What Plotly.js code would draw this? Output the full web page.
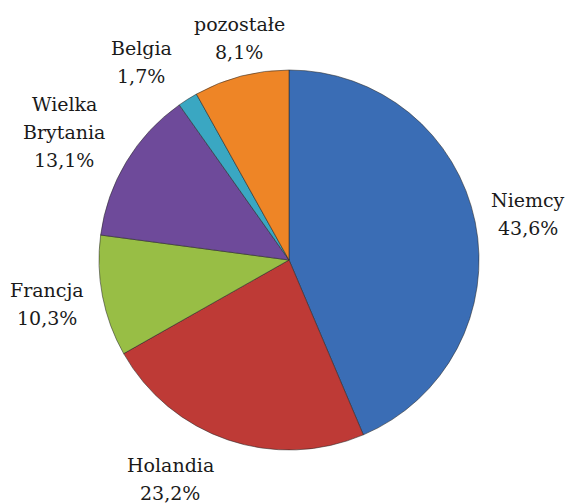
<!DOCTYPE html>
<html>
<head>
<meta charset="utf-8">
<script src="https://cdn.plot.ly/plotly-3.0.1.min.js"></script>
<style>html,body{margin:0;padding:0;background:#fff;}#chart{width:571px;height:504px;}</style>
</head>
<body>
<div id="chart"></div>
<script>
var categories = ["Niemcy", "Holandia", "Francja", "Wielka<br>Brytania", "Belgia", "pozostałe"];
var values = [43.6, 23.2, 10.3, 13.1, 1.7, 8.1];
var colors = ["#3A6DB5", "#BE3A36", "#98BE45", "#6E4A9A", "#3AA7C2", "#EE8526"];
var labelPos = [[528, 214], [170, 479], [47, 304], [64, 132], [141, 62], [239, 38]];

var W = 571, H = 504;
var cx = 289, cy = 260, r = 190;
var lineGap = 28;

function fmt(v) { return v.toFixed(1).replace('.', ',') + '%'; }

var serif = 'DejaVu Serif, serif';

var annotations = [];
categories.forEach(function (c, i) {
  var lines = c.split('<br>').concat([fmt(values[i])]);
  var top = labelPos[i][1] - (lines.length - 1) * lineGap / 2;
  lines.forEach(function (t, k) {
    annotations.push({
      text: t,
      x: labelPos[i][0] / W, y: 1 - (top + k * lineGap) / H,
      xref: 'paper', yref: 'paper', xanchor: 'center', yanchor: 'middle',
      showarrow: false, align: 'center',
      font: {family: serif, size: 19, color: '#1a1a1a'}
    });
  });
});

var trace = {
  type: 'pie',
  labels: categories,
  values: values,
  sort: false,
  direction: 'clockwise',
  rotation: 0,
  textinfo: 'none',
  hoverinfo: 'label+percent',
  marker: {colors: colors, line: {color: 'rgba(40,40,40,0.55)', width: 1}},
  domain: {x: [(cx - r) / W, (cx + r) / W], y: [1 - (cy + r) / H, 1 - (cy - r) / H]}
};

var layout = {
  width: W, height: H,
  margin: {l: 0, r: 0, t: 0, b: 0},
  showlegend: false,
  paper_bgcolor: '#fff',
  font: {family: serif},
  annotations: annotations
};

Plotly.newPlot('chart', [trace], layout, {displayModeBar: false, staticPlot: true});
</script>
</body>
</html>
